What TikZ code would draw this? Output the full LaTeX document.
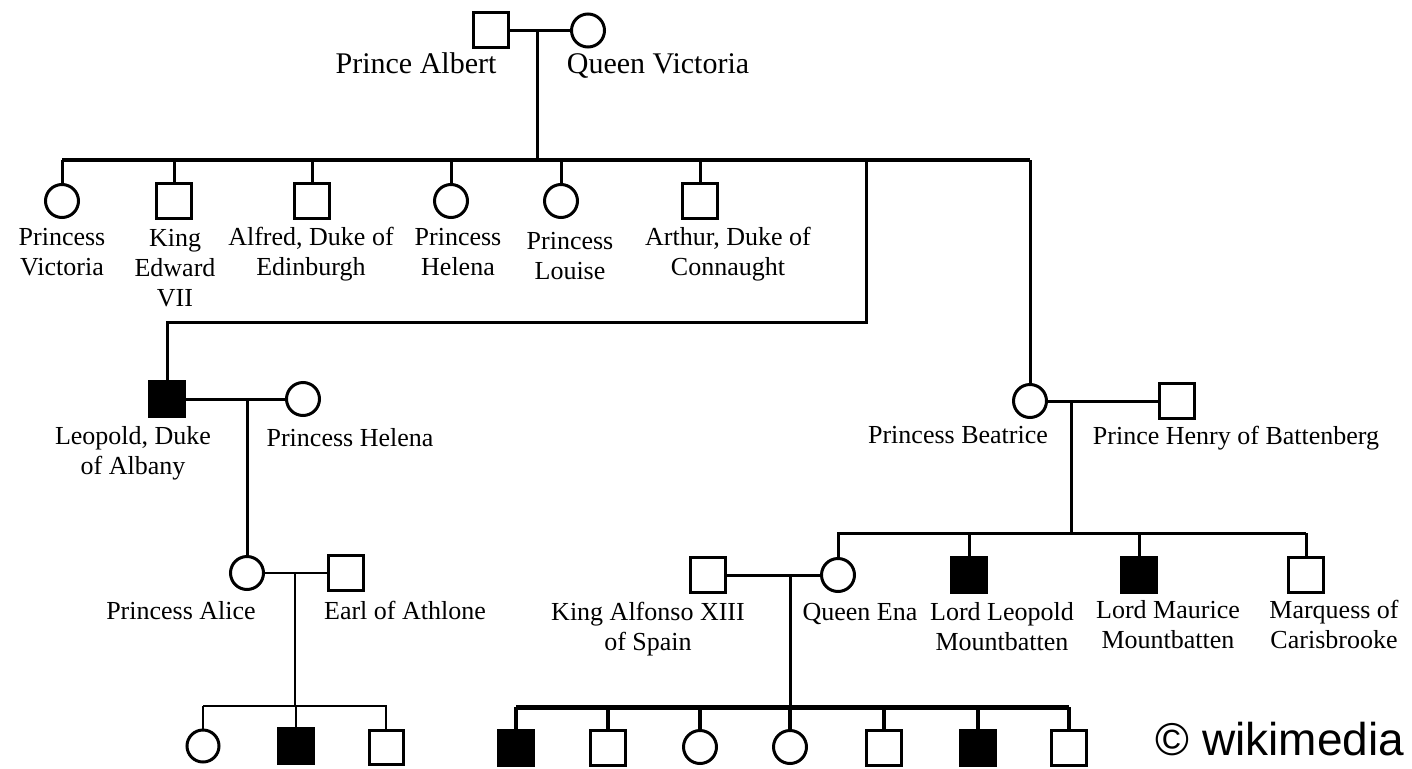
\documentclass[tikz,border=0pt]{standalone}
\usepackage{fontspec}
\setmainfont{Liberation Serif}
\newfontfamily\wmfont{Liberation Sans}
\begin{document}
\begin{tikzpicture}[x=1pt,y=-1pt,
  person/.style={draw=black,inner sep=0pt,line width=3pt},
  male/.style={person,rectangle,minimum size=35pt},
  female/.style={person,circle,minimum size=33pt},
  affected/.style={male,fill=black},
  line/.style={line width=3pt},
  thinline/.style={line width=2pt},
  lbl/.style={font=\fontsize{26}{30}\selectfont,align=center,anchor=base,inner sep=0pt},
  biglbl/.style={font=\fontsize{30}{34}\selectfont,anchor=base,inner sep=0pt}]
\useasboundingbox (0,0) rectangle (1412,768);
% multi-line labels are placed by the baseline of their last line

% --- generation I ---
\node[male]   (albert)   at (491,30.5) {};
\node[female] (victoria) at (588,30.5) {};
\node[biglbl] (lalbert)  at (416,74) {Prince Albert};
\node[biglbl] (lvict)    at (658,74) {Queen Victoria};
\coordinate (m1) at (537,30.5);
\draw[line width=2.5pt] (albert.east) -- (victoria.west);
\coordinate (s1) at (537,160);
\draw[line] (m1) -- (s1);

% --- generation II ---
\coordinate (sl) at (62,160);
\coordinate (sr) at (1030,160);
\draw[line width=4pt] (sl) -- (sr);

\node[female] (pvic)   at (62,201)  {};
\node[male]   (edward) at (174,201) {};
\node[male]   (alfred) at (312,201) {};
\node[female] (helena) at (451,201) {};
\node[female] (louise) at (561,201) {};
\node[male]   (arthur) at (700,201) {};
\foreach \n in {pvic,edward,alfred,helena,louise,arthur}
  \draw[line] (\n.north) -- (\n.north |- sl);

\node[lbl] (lpvic)   at (62,275)  {Princess\\Victoria};
\node[lbl] (ledward) at (175,306) {King\\Edward\\VII};
\node[lbl] (lalfred) at (311,275) {Alfred, Duke of\\Edinburgh};
\node[lbl] (lhelena) at (458,275) {Princess\\Helena};
\node[lbl] (llouise) at (570,279) {Princess\\Louise};
\node[lbl] (larthur) at (728,275) {Arthur, Duke of\\Connaught};

% Leopold branch
\node[affected] (leopold) at (167,399) {};
\coordinate (lp1) at (866,160);
\coordinate (lp2) at (866,322);
\draw[line] (lp1) -- (lp2) -- (lp2 -| leopold) -- (leopold.north);

% Beatrice branch
\node[female] (beatrice) at (1030,401) {};
\draw[line] (sr) -- (beatrice.north);

% --- generation III ---
\node[female] (helena2) at (303,399) {};
\draw[line] (leopold.east) -- (helena2.west);
\node[lbl] (lleopold) at (133,474) {Leopold, Duke\\of Albany};
\node[lbl] (lhelena2) at (350,446) {Princess Helena};

\node[male] (henry) at (1177,401) {};
\draw[line] (beatrice.east) -- (henry.west);
\node[lbl] (lbeatrice) at (958,443) {Princess Beatrice};
\node[lbl] (lhenry)    at (1236,444) {Prince Henry of Battenberg};

\node[female] (alice) at (247,573) {};
\coordinate (m2) at (247,399);
\draw[line] (m2) -- (alice.north);

\coordinate (m3) at (1071,401);
\coordinate (bl) at (837,533);
\coordinate (bm) at (1071,533);
\coordinate (br) at (1306,533);
\draw[line] (m3) -- (bm);
\draw[line] (bl) -- (br);

\node[female]   (ena)      at (838,575)  {};
\node[affected] (lordleo)  at (969,575)  {};
\node[affected] (maurice)  at (1139,575) {};
\node[male]     (marquess) at (1306,575) {};
\foreach \n in {ena,lordleo,maurice,marquess}
  \draw[line] (\n.north) -- (\n.north |- bl);

\node[lbl] (lena)      at (860,620)  {Queen Ena};
\node[lbl] (llordleo)  at (1002,650) {Lord Leopold\\Mountbatten};
\node[lbl] (lmaurice)  at (1168,648) {Lord Maurice\\Mountbatten};
\node[lbl] (lmarquess) at (1334,648) {Marquess of\\Carisbrooke};

% Alice and the Earl of Athlone
\node[male] (earl) at (346,573) {};
\draw[thinline] (alice.east) -- (earl.west);
\node[lbl] (lalice) at (181,619) {Princess Alice};
\node[lbl] (learl)  at (405,619) {Earl of Athlone};
\coordinate (m4) at (295,573);
\coordinate (al) at (203,706);
\coordinate (am) at (295,706);
\coordinate (ar) at (387,706);
\draw[thinline] (m4) -- (am);
\draw[thinline] (al) -- (ar);

% Alfonso and Ena
\node[male] (alfonso) at (708,575) {};
\draw[line] (alfonso.east) -- (ena.west);
\node[lbl] (lalfonso) at (648,650) {King Alfonso XIII\\of Spain};
\coordinate (m5) at (790,575);
\coordinate (fl) at (516,707);
\coordinate (fm) at (790,707);
\coordinate (fr) at (1069,707);
\draw[line] (m5) -- (fm);
\draw[line width=5pt] (fl) -- (fr);

% --- generation IV ---
\node[female,minimum size=32pt]   (ac1) at (203,746) {};
\node[affected,minimum size=35pt] (ac2) at (296,746) {};
\node[male,minimum size=34pt]     (ac3) at (386,747) {};
\foreach \n in {ac1,ac2,ac3}
  \draw[thinline] (\n.north) -- (\n.north |- al);

\node[affected] (fc1) at (516,748)  {};
\node[male]     (fc2) at (608,748)  {};
\node[female]   (fc3) at (700,747)  {};
\node[female]   (fc4) at (790,747)  {};
\node[male]     (fc5) at (884,748)  {};
\node[affected] (fc6) at (978,748)  {};
\node[male]     (fc7) at (1069,748) {};
\foreach \n in {fc1,fc2,fc3,fc4,fc5,fc6,fc7}
  \draw[line width=4pt] (\n.north) -- (\n.north |- fl);

\node[font=\wmfont\fontsize{46}{50}\selectfont,anchor=base,inner sep=0pt] (credit) at (1280,755) {\textcopyright{} wikimedia};
\end{tikzpicture}
\end{document}
